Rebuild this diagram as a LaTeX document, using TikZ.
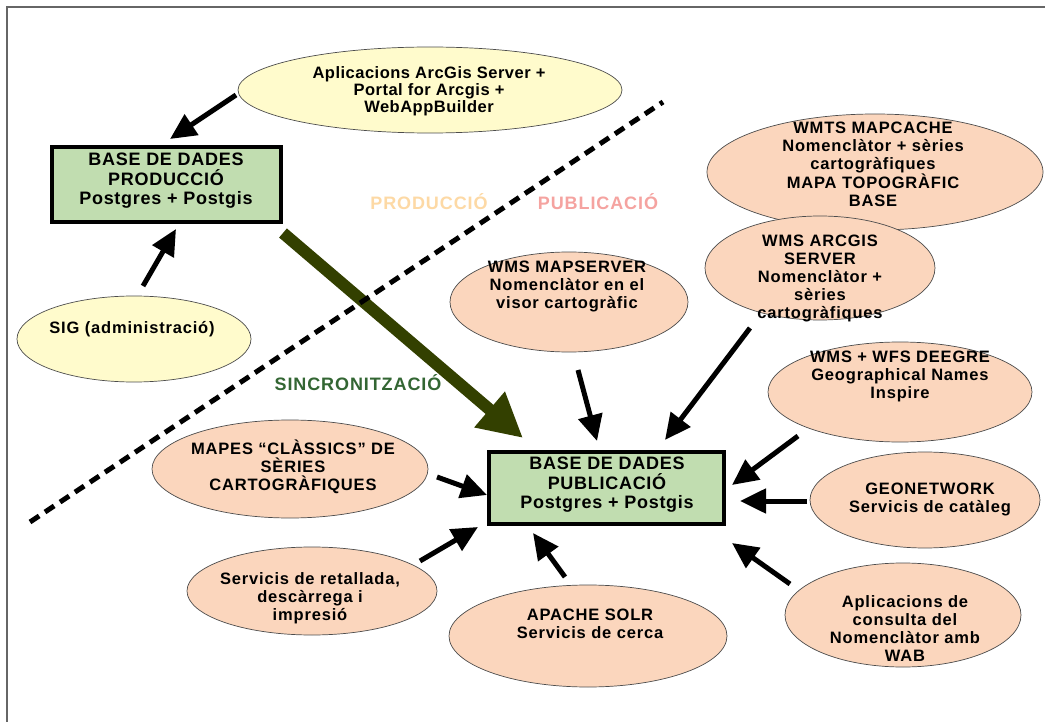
\documentclass[tikz,border=0pt]{standalone}
\usepackage{fontspec}
\setmainfont{Liberation Sans}[LetterSpace=5]
\newfontfamily\boxfont{Liberation Sans}[LetterSpace=4]
\newfontfamily\apfont{Liberation Sans}[LetterSpace=3]
\newfontfamily\zonefont{Liberation Sans}[LetterSpace=5]
\usetikzlibrary{shapes.geometric,arrows.meta}
\definecolor{peach}{HTML}{FBD6BD}
\definecolor{paleyellow}{HTML}{FFFBCC}
\definecolor{dbgreen}{HTML}{C1DDB0}
\definecolor{syncarrow}{HTML}{334000}
\definecolor{synctext}{HTML}{336633}
\definecolor{prodcol}{HTML}{FDD9A5}
\definecolor{pubcol}{HTML}{F5A3A0}
\definecolor{framecol}{HTML}{666666}
\tikzset{
  bubble/.style={ellipse, draw=black!70, line width=0.7pt, fill=peach, inner sep=0pt},
  ybubble/.style={bubble, fill=paleyellow},
  dbbox/.style={rectangle, draw=black, line width=4pt, fill=dbgreen, inner sep=0pt},
  lbl/.style={align=center, inner sep=0pt, font=\fontsize{16.5}{18}\selectfont\bfseries},
  aplbl/.style={align=center, inner sep=0pt, font=\fontsize{16.5}{17}\selectfont\apfont\bfseries},
  dblbl/.style={align=center, inner sep=0pt, font=\fontsize{18}{19.5}\selectfont\boxfont\bfseries},
  feed/.style={line width=5pt, -{Triangle[length=26pt,width=24pt]}},
  sync/.style={line width=12pt, draw=syncarrow, -{Triangle[length=44pt,width=44pt]}},
  zone/.style={font=\fontsize{18}{20}\selectfont\zonefont\bfseries, inner sep=0pt}
}
\begin{document}
\begin{tikzpicture}[x=1pt,y=-1pt]
\useasboundingbox (0,0) rectangle (1045,722);
\fill[white] (0,0) rectangle (1045,722);
% page frame
\draw[framecol, line width=2pt] (7,722) -- (7,7) -- (1045,7);

% production side
\node[ybubble, minimum width=384pt, minimum height=86pt] (ap) at (430,90) {};
\node[aplbl] (apT) at (429,91) {Aplicacions ArcGis Server +\\Portal for Arcgis +\\WebAppBuilder};
\node[dbbox, minimum width=229pt, minimum height=75pt] (prod) at (166.5,184.5) {};
\node[dblbl] (prodT) at (166,181) {BASE DE DADES\\PRODUCCIÓ\\Postgres + Postgis};
\node[ybubble, minimum width=234pt, minimum height=86pt] (sig) at (134,339) {};
\node[lbl] (sigT) at (132,329) {SIG (administració)};

% publication side
\node[bubble, minimum width=238pt, minimum height=100pt] (mapserver) at (569,302) {};
\node[lbl] (mapserverT) at (567,286) {WMS MAPSERVER\\Nomenclàtor en el\\visor cartogràfic};
\node[bubble, minimum width=336pt, minimum height=116pt] (wmts) at (875,172) {};
\node[lbl] (wmtsT) at (873,164) {WMTS MAPCACHE\\Nomenclàtor + sèries\\cartogràfiques\\MAPA TOPOGRÀFIC\\BASE};
\node[bubble, minimum width=230pt, minimum height=104pt] (arcgis) at (820,268) {};
\node[lbl] (arcgisT) at (820,278) {WMS ARCGIS\\SERVER\\Nomenclàtor +\\sèries\\cartogràfiques};
\node[bubble, minimum width=264pt, minimum height=100pt] (deegre) at (900,392) {};
\node[lbl] (deegreT) at (900,376) {WMS + WFS DEEGRE\\Geographical Names\\Inspire};
\node[bubble, minimum width=230pt, minimum height=96pt] (geo) at (925,500) {};
\node[lbl] (geoT) at (930,499) {GEONETWORK\\Servicis de catàleg};
\node[bubble, minimum width=278pt, minimum height=102pt] (solr) at (588,636) {};
\node[lbl] (solrT) at (590,624) {APACHE SOLR\\Servicis de cerca};
\node[bubble, minimum width=236pt, minimum height=104pt] (wab) at (903,615) {};
\node[lbl] (wabT) at (905,629) {Aplicacions de\\consulta del\\Nomenclàtor amb\\WAB};
\node[bubble, minimum width=276pt, minimum height=98pt] (mapes) at (290,469) {};
\node[lbl] (mapesT) at (293,467) {MAPES “CLÀSSICS” DE\\SÈRIES\\CARTOGRÀFIQUES};
\node[bubble, minimum width=250pt, minimum height=88pt] (serv) at (312,591) {};
\node[lbl] (servT) at (310,598) {Servicis de retallada,\\descàrrega i\\impresió};
\node[dbbox, minimum width=235pt, minimum height=72pt] (pub) at (606.5,488) {};
\node[dblbl] (pubT) at (607,485) {BASE DE DADES\\PUBLICACIÓ\\Postgres + Postgis};

% zone labels
\node[zone, text=prodcol] (prodlbl) at (429,202) {PRODUCCIÓ};
\node[zone, text=pubcol] (publbl) at (598,202) {PUBLICACIÓ};
\node[zone, text=synctext] (synclbl) at (358,383) {SINCRONITZACIÓ};

% arrow end points
\coordinate (apS) at (236,95);   \coordinate (apE) at (170,139);
\coordinate (sigS) at (143,286); \coordinate (sigE) at (176,229);
\coordinate (syS) at (283,233);  \coordinate (syE) at (523,438);
\coordinate (msS) at (578,370);  \coordinate (msE) at (597,441);
\coordinate (agS) at (750,328);  \coordinate (agE) at (665,440);
\coordinate (deS) at (798,436);  \coordinate (deE) at (732,485);
\coordinate (geS) at (807,501);  \coordinate (geE) at (740,501);
\coordinate (wbS) at (790,584);  \coordinate (wbE) at (732,543);
\coordinate (soS) at (565,577);  \coordinate (soE) at (533,533);
\coordinate (seS) at (420,561);  \coordinate (seE) at (478,527);
\coordinate (maS) at (437,477);  \coordinate (maE) at (487,495);
\coordinate (dashA) at (30,522); \coordinate (dashB) at (663,102);

\draw[feed] (apS) -- (apE);
\draw[feed] (sigS) -- (sigE);
\draw[sync] (syS) -- (syE);
\draw[line width=5pt, dash pattern=on 11pt off 7pt] (dashA) -- (dashB);
\draw[feed] (msS) -- (msE);
\draw[feed] (agS) -- (agE);
\draw[feed] (deS) -- (deE);
\draw[feed] (geS) -- (geE);
\draw[feed] (wbS) -- (wbE);
\draw[feed] (soS) -- (soE);
\draw[feed] (seS) -- (seE);
\draw[feed] (maS) -- (maE);
\end{tikzpicture}
\end{document}
